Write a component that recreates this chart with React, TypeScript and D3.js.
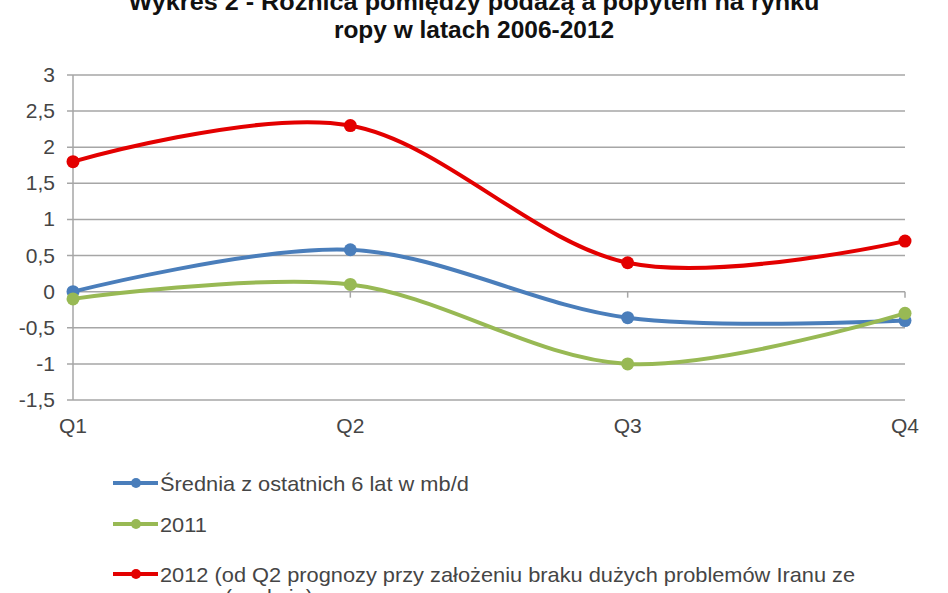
import React from 'react';
import * as d3 from 'd3';

// kwartały i serie
const quarters = ['Q1', 'Q2', 'Q3', 'Q4'];
const avgSixYears = [0, 0.58, -0.36, -0.4];
const year2011 = [-0.1, 0.1, -1.0, -0.3];
const year2012 = [1.8, 2.3, 0.4, 0.7];
const yTicks = [3, 2.5, 2, 1.5, 1, 0.5, 0, -0.5, -1, -1.5];

const seriesNames = [
    'Średnia z ostatnich 6 lat w mb/d',
    '2011',
    '2012 (od Q2 prognozy przy założeniu braku dużych problemów  Iranu ze',
];
const seriesColors = ['#4a7ebb', '#98b954', '#e30000'];
const titleLines = [
    'Wykres 2 - Różnica pomiędzy podażą a popytem na rynku',
    'ropy w latach 2006-2012',
];

const W = 948;
const H = 593;

const App = () => {
    const x = d3.scalePoint<string>().domain(quarters).range([73, 905]);
    const y = d3.scaleLinear().domain([-1.5, 3]).range([400, 75]);

    const allSeries = [avgSixYears, year2011, year2012];

    const line = d3.line<number>()
        .x((_, i) => x(quarters[i]) as number)
        .y(d => y(d))
        .curve(d3.curveCardinal.tension(0));

    const fmt = (v: number) => String(v).replace('.', ',');
    const gridColor = '#a6a6a6';
    const textColor = '#454545';

    return (
        <svg width={W} height={H} style={{ position: 'absolute', left: 0, top: 0, background: '#fff' }}
             fontFamily="'Liberation Sans', Arial, sans-serif">
            {/* tytuł */}
            {titleLines.map((t, i) => (
                <text key={t} transform={`translate(474,${10 + i * 28}) scale(${i === 0 ? 1.05 : 1.02},1)`}
                      textAnchor="middle" fontSize={24} fontWeight="bold" fill="#111">{t}</text>
            ))}

            {/* siatka */}
            {yTicks.map(v => (
                <g key={v}>
                    <line x1={67} x2={905} y1={y(v)} y2={y(v)} stroke={gridColor} strokeWidth={1.5} />
                    <text x={55} y={y(v) + 7} textAnchor="end" fontSize={21} fill={textColor}>{fmt(v)}</text>
                </g>
            ))}
            <line x1={73} x2={73} y1={y(3)} y2={y(-1.5)} stroke={gridColor} strokeWidth={1.5} />
            {quarters.map(q => (
                <g key={q}>
                    <line x1={x(q)} x2={x(q)} y1={y(0)} y2={y(0) + 6} stroke={gridColor} strokeWidth={1.5} />
                    <text x={x(q)} y={433} textAnchor="middle" fontSize={21} fill={textColor}>{q}</text>
                </g>
            ))}

            {/* serie */}
            {allSeries.map((s, k) => (
                <g key={k}>
                    <path d={line(s) as string} fill="none" stroke={seriesColors[k]} strokeWidth={4} />
                    {s.map((v, i) => (
                        <circle key={i} cx={x(quarters[i])} cy={y(v)} r={6.5} fill={seriesColors[k]} />
                    ))}
                </g>
            ))}

            {/* legenda */}
            {seriesNames.map((n, k) => {
                const ly = [483, 524, 574][k];
                return (
                    <g key={n}>
                        <line x1={113} x2={158} y1={ly} y2={ly} stroke={seriesColors[k]} strokeWidth={4} />
                        <circle cx={136} cy={ly} r={5} fill={seriesColors[k]} />
                        <text transform={`translate(160,${ly + 8}) scale(1.09,1)`} fontSize={20}
                              fill={textColor}>{n}</text>
                    </g>
                );
            })}
            <text transform="translate(175,604) scale(1.09,1)" fontSize={20} fill={textColor}>ropą (sankcje)</text>
        </svg>
    );
};

export default App;
